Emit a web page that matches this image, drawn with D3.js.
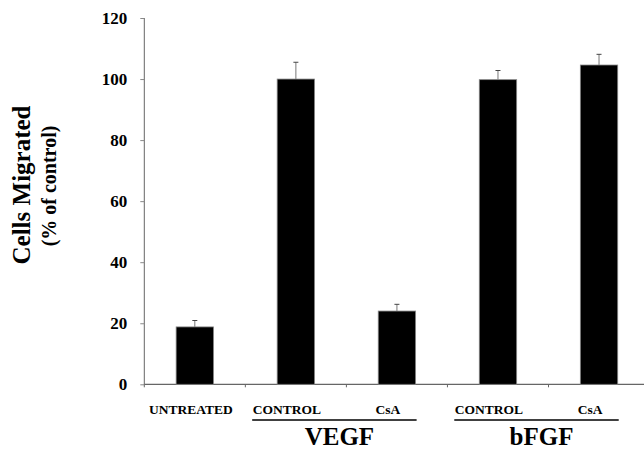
<!DOCTYPE html>
<html>
<head>
<meta charset="utf-8">
<script src="https://cdn.jsdelivr.net/npm/d3@7"></script>
<style>
  body { margin: 0; background: #fff; }
  text { font-family: "Liberation Serif", "Times New Roman", serif; font-weight: bold; }
</style>
</head>
<body>
<svg id="chart"></svg>
<script>
// data
var categories = ["UNTREATED", "VEGF CONTROL", "VEGF CsA", "bFGF CONTROL", "bFGF CsA"];
var catLabels = ["UNTREATED", "CONTROL", "CsA", "CONTROL", "CsA"];
var means = [18.8, 100, 24.0, 99.8, 104.6];
var errTop = [20.9, 105.5, 26.2, 102.8, 108.1];
var yTicks = [0, 20, 40, 60, 80, 100, 120];
var groups = ["VEGF", "bFGF"];
var groupMembers = [["VEGF CONTROL", "VEGF CsA"], ["bFGF CONTROL", "bFGF CsA"]];

var width = 644, height = 450;
var margin = {left: 144.3, top: 18, bottom: 66};

var svg = d3.select("#chart")
	.attr("width", width)
	.attr("height", height);

var x = d3.scaleBand()
	.domain(categories)
	.range([margin.left, margin.left + 5 * 101.05])
	.paddingInner(0.63)
	.paddingOuter(0.315);

var y = d3.scaleLinear()
	.domain([0, 120])
	.range([384.3, margin.top]);

//y axis
var yAxis = svg.append("g")
	.attr("transform", "translate(" + margin.left + ",0)")
	.call(d3.axisLeft(y).tickValues(yTicks).tickSize(4).tickPadding(13));
yAxis.select(".domain").attr("stroke", "#666").attr("stroke-width", 1).attr("d", "M0," + y(0) + "V" + y(120));
yAxis.selectAll(".tick line").attr("stroke", "#888");
yAxis.selectAll(".tick text")
	.attr("font-family", "Liberation Serif, serif")
	.attr("font-weight", "bold")
	.attr("font-size", 17)
	.attr("fill", "#000");

//x axis line and band ticks
svg.append("line")
	.attr("x1", margin.left).attr("x2", width)
	.attr("y1", y(0)).attr("y2", y(0))
	.attr("stroke", "#666").attr("stroke-width", 1.2);

var step = x.step();
svg.selectAll(".xtick")
	.data(d3.range(5))
	.enter().append("line")
	.attr("class", "xtick")
	.attr("x1", function(d) { return margin.left + d * step; })
	.attr("x2", function(d) { return margin.left + d * step; })
	.attr("y1", y(0)).attr("y2", y(0) + 3)
	.attr("stroke", "#666");

//error bars
svg.selectAll(".err")
	.data(categories)
	.enter().append("line")
	.attr("class", "err")
	.attr("x1", function(d) { return x(d) + x.bandwidth() / 2; })
	.attr("x2", function(d) { return x(d) + x.bandwidth() / 2; })
	.attr("y1", function(d, i) { return y(means[i]); })
	.attr("y2", function(d, i) { return y(errTop[i]); })
	.attr("stroke", "#777").attr("stroke-width", 1);
svg.selectAll(".cap")
	.data(categories)
	.enter().append("line")
	.attr("class", "cap")
	.attr("x1", function(d) { return x(d) + x.bandwidth() / 2 - 2.5; })
	.attr("x2", function(d) { return x(d) + x.bandwidth() / 2 + 2.5; })
	.attr("y1", function(d, i) { return y(errTop[i]); })
	.attr("y2", function(d, i) { return y(errTop[i]); })
	.attr("stroke", "#444").attr("stroke-width", 1);

//bars
svg.selectAll(".bar")
	.data(categories)
	.enter().append("rect")
	.attr("class", "bar")
	.attr("x", function(d) { return x(d); })
	.attr("width", x.bandwidth())
	.attr("y", function(d, i) { return y(means[i]); })
	.attr("height", function(d, i) { return y(0) - y(means[i]); })
	.attr("fill", "#000")
	.attr("stroke", "#888")
	.attr("stroke-width", 0.8);

//category labels
svg.selectAll(".catlab")
	.data(categories)
	.enter().append("text")
	.attr("class", "catlab")
	.attr("x", function(d, i) { return x(d) + x.bandwidth() / 2 + (i == 0 ? -4 : -9); })
	.attr("y", 414)
	.attr("text-anchor", "middle")
	.attr("font-size", 13.5)
	.text(function(d, i) { return catLabels[i]; });

//group lines and labels
var gx0 = function(i) { return x(groupMembers[i][0]) - 25; };
var gx1 = function(i) { return x(groupMembers[i][1]) + x.bandwidth() + 1; };
svg.selectAll(".gline")
	.data(groups)
	.enter().append("line")
	.attr("class", "gline")
	.attr("x1", function(d, i) { return gx0(i); })
	.attr("x2", function(d, i) { return gx1(i); })
	.attr("y1", 420).attr("y2", 420)
	.attr("stroke", "#000").attr("stroke-width", 1.3);
svg.selectAll(".glab")
	.data(groups)
	.enter().append("text")
	.attr("class", "glab")
	.attr("x", function(d, i) { return (gx0(i) + gx1(i)) / 2 + 5; })
	.attr("y", 445)
	.attr("text-anchor", "middle")
	.attr("font-size", 25)
	.text(function(d) { return d; });

//y axis title
svg.append("text")
	.attr("transform", "translate(30,185) rotate(-90)")
	.attr("text-anchor", "middle")
	.attr("font-size", 25)
	.text("Cells Migrated");
svg.append("text")
	.attr("transform", "translate(56,186) rotate(-90)")
	.attr("text-anchor", "middle")
	.attr("font-size", 20)
	.text("(% of control)");
</script>
</body>
</html>
